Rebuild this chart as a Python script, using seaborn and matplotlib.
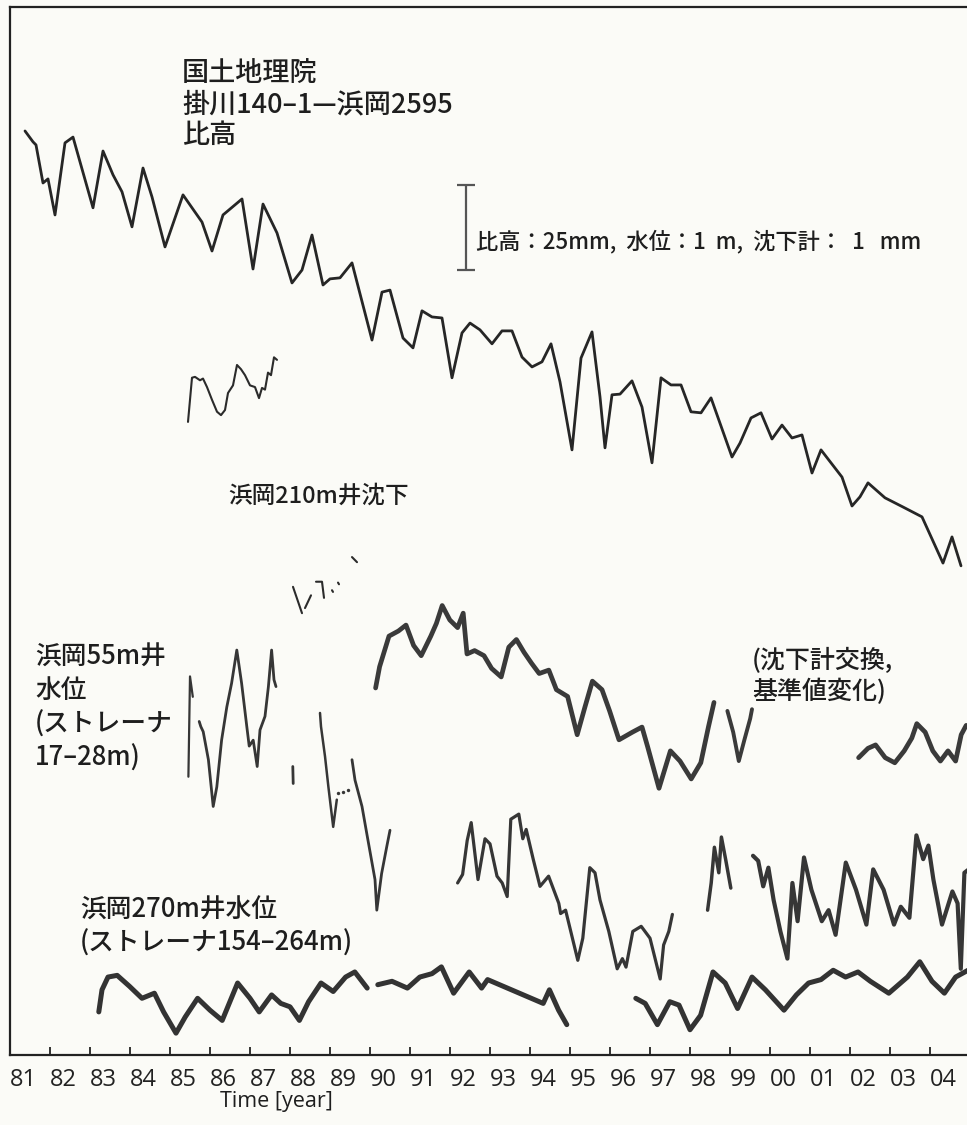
import matplotlib
matplotlib.use("Agg")
import matplotlib.pyplot as plt
import seaborn as sns
from matplotlib.transforms import ScaledTranslation

# ---------------- data ----------------
tick_years = list(range(1981, 2005))
tick_labels = [f"{y % 100:02d}" for y in tick_years]

# GSI leveling Kakegawa 140-1 -> Hamaoka 2595, relative height (mm)
lev_year = [1981.375, 1981.575, 1981.65, 1981.825, 1981.95, 1982.125, 1982.375, 1982.575,
            1983.075, 1983.325, 1983.575, 1983.8, 1984.05, 1984.325, 1984.55, 1984.875,
            1985.325, 1985.8, 1986.05, 1986.325, 1986.8, 1987.075, 1987.325, 1987.675,
            1988.05, 1988.3, 1988.55, 1988.825, 1989.0, 1989.25, 1989.55, 1990.05,
            1990.3, 1990.5, 1990.825, 1991.075, 1991.3, 1991.55, 1991.8, 1992.05,
            1992.3, 1992.5, 1992.75, 1993.05, 1993.3, 1993.55, 1993.8, 1994.05,
            1994.3, 1994.525, 1994.75, 1995.05, 1995.275, 1995.55, 1995.75, 1995.875,
            1996.05, 1996.25, 1996.55, 1996.8, 1997.05, 1997.275, 1997.525, 1997.775,
            1998.025, 1998.275, 1998.525, 1999.05, 1999.25, 1999.525, 1999.775, 2000.05,
            2000.3, 2000.55, 2000.8, 2001.05, 2001.275, 2001.8, 2002.05, 2002.25,
            2002.45, 2002.875, 2003.325, 2003.8, 2004.325, 2004.55, 2004.775]
lev_mm = [0.0, -3.2, -4.1, -15.3, -14.1, -24.7, -3.5, -1.8,
          -22.6, -5.9, -12.9, -17.9, -28.2, -10.9, -19.4, -34.1,
          -18.8, -26.8, -35.3, -24.7, -20.0, -40.6, -21.5, -30.0,
          -44.7, -40.9, -30.6, -45.3, -43.5, -43.2, -38.8, -61.5,
          -47.4, -46.8, -60.9, -63.8, -52.9, -54.7, -55.0, -72.6,
          -59.4, -56.5, -58.5, -62.6, -58.8, -58.8, -66.5, -69.4,
          -67.9, -62.6, -73.8, -93.8, -66.8, -59.1, -78.2, -93.2,
          -77.6, -77.4, -73.5, -81.2, -97.6, -72.6, -74.7, -74.7,
          -82.6, -82.9, -78.5, -95.9, -91.8, -84.4, -82.9, -90.6,
          -86.5, -90.3, -89.4, -100.6, -93.8, -101.8, -110.3, -107.6,
          -103.5, -107.9, -110.6, -113.5, -127.1, -119.4, -127.9]

# Hamaoka 210 m well subsidence meter (mm)
sub_a_year = [1985.45, 1985.55, 1985.625, 1985.75, 1985.825, 1985.925, 1986.05, 1986.175,
              1986.275, 1986.375, 1986.45, 1986.575, 1986.675, 1986.775, 1986.875, 1987.0,
              1987.125, 1987.225, 1987.3, 1987.375, 1987.45, 1987.525, 1987.6, 1987.675]
sub_a_mm = [3.13, 3.65, 3.66, 3.62, 3.64, 3.54, 3.39, 3.25,
            3.21, 3.27, 3.47, 3.56, 3.80, 3.75, 3.68, 3.56,
            3.54, 3.41, 3.53, 3.51, 3.71, 3.68, 3.89, 3.86]
sub_b_year = [[1988.075, 1988.30], [1988.375, 1988.525], [1988.65, 1988.80, 1988.85],
              [1989.05, 1989.075], [1989.20, 1989.225], [1989.55, 1989.675]]
sub_b_mm = [[1.19, 0.88], [0.94, 1.09], [1.25, 1.25, 1.06],
            [1.15, 1.13], [1.24, 1.22], [1.54, 1.48]]
sub_c_year = [1990.14, 1990.24, 1990.475, 1990.71, 1990.90, 1991.09, 1991.28, 1991.52,
              1991.66, 1991.805, 1991.995, 1992.19, 1992.33, 1992.425, 1992.615, 1992.85,
              1993.04, 1993.28, 1993.47, 1993.66, 1993.85, 1994.04, 1994.23, 1994.47,
              1994.66, 1994.94, 1995.18, 1995.37, 1995.56, 1995.80, 1995.99, 1996.225,
              1996.56, 1996.80, 1996.94, 1997.225, 1997.51, 1997.75, 1998.03, 1998.27,
              1998.46, 1998.60]
sub_c_mm = [0.00, 0.25, 0.61, 0.67, 0.74, 0.50, 0.38, 0.61,
            0.76, 0.97, 0.80, 0.71, 0.88, 0.40, 0.44, 0.38,
            0.23, 0.13, 0.48, 0.57, 0.42, 0.29, 0.17, 0.21,
            -0.02, -0.10, -0.55, -0.23, 0.08, -0.02, -0.27, -0.61,
            -0.52, -0.46, -0.69, -1.18, -0.74, -0.86, -1.07, -0.88,
            -0.46, -0.17]
sub_d_year = [1998.935, 1999.08, 1999.22, 1999.36, 1999.505, 1999.55]
sub_d_mm = [-0.27, -0.52, -0.86, -0.61, -0.36, -0.25]
sub_e_year = [2002.215, 2002.45, 2002.64, 2002.88, 2003.12, 2003.355, 2003.545, 2003.67,
              2003.88, 2004.07, 2004.26, 2004.45, 2004.64, 2004.78, 2004.905]
sub_e_mm = [-0.82, -0.71, -0.67, -0.82, -0.88, -0.74, -0.59, -0.42,
            -0.52, -0.74, -0.86, -0.74, -0.86, -0.55, -0.44]

# Hamaoka 55 m well water level (m)
w55_a_year = [1985.46, 1985.50, 1985.57]
w55_a_m = [1.25, 2.43, 2.19]
w55_b_year = [1985.73, 1985.77, 1985.83, 1985.96, 1986.08, 1986.17, 1986.29, 1986.42,
              1986.54, 1986.67, 1986.79, 1986.92, 1986.98, 1987.08, 1987.18, 1987.25,
              1987.375, 1987.46, 1987.54, 1987.60, 1987.65]
w55_b_m = [1.90, 1.84, 1.78, 1.45, 0.90, 1.13, 1.68, 2.07,
           2.35, 2.74, 2.35, 1.84, 1.61, 1.68, 1.37, 1.80,
           1.96, 2.31, 2.74, 2.39, 2.31]
w55_c_year = [1988.07, 1988.08]
w55_c_m = [1.37, 1.17]
w55_d_year = [1988.75, 1988.775, 1988.875, 1988.96, 1989.08, 1989.17]
w55_d_m = [2.00, 1.84, 1.49, 1.13, 0.66, 0.98]
w55_dot_year = [1989.20, 1989.325, 1989.45]
w55_dot_m = [1.06, 1.07, 1.09]
w55_e_year = [1989.55, 1989.625, 1989.80, 1989.92, 1990.125, 1990.17, 1990.29, 1990.42, 1990.50]
w55_e_m = [1.45, 1.21, 0.90, 0.58, 0.04, -0.32, 0.11, 0.43, 0.62]
w55_f_year = [1992.19, 1992.315, 1992.43, 1992.53, 1992.70, 1992.875, 1993.0, 1993.175,
              1993.305, 1993.43, 1993.52, 1993.72, 1993.82, 1993.905, 1994.08, 1994.25,
              1994.465, 1994.72, 1994.765, 1994.89, 1995.195, 1995.32, 1995.495, 1995.625,
              1995.75, 1995.97, 1996.18, 1996.31, 1996.40, 1996.57, 1996.78, 1997.0,
              1997.255, 1997.34, 1997.47, 1997.56]
w55_f_m = [0.00, 0.10, 0.50, 0.71, 0.04, 0.52, 0.46, 0.08,
           0.00, -0.16, 0.75, 0.81, 0.52, 0.63, 0.28, -0.04,
           0.08, -0.24, -0.36, -0.32, -0.91, -0.65, 0.18, 0.12,
           -0.20, -0.57, -1.01, -0.89, -0.99, -0.57, -0.51, -0.65,
           -1.13, -0.73, -0.57, -0.37]
w55_g_year = [1998.44, 1998.53, 1998.61, 1998.72, 1998.785, 1998.89, 1999.02]
w55_g_m = [-0.32, 0.00, 0.42, 0.12, 0.54, 0.28, -0.06]
w55_h_year = [1999.575, 1999.705, 1999.83, 1999.96, 2000.09, 2000.26, 2000.435, 2000.56,
              2000.69, 2000.85, 2001.035, 2001.295, 2001.465, 2001.64, 2001.895, 2002.15,
              2002.41, 2002.58, 2002.84, 2003.10, 2003.27, 2003.485, 2003.66, 2003.83,
              2003.96, 2004.085, 2004.30, 2004.56, 2004.69, 2004.77, 2004.86, 2004.97]
w55_h_m = [0.32, 0.26, -0.04, 0.18, -0.20, -0.57, -0.89, 0.00,
           -0.45, 0.30, -0.08, -0.45, -0.32, -0.61, 0.24, -0.08,
           -0.49, 0.16, -0.08, -0.49, -0.28, -0.41, 0.56, 0.28,
           0.44, 0.04, -0.49, -0.10, -0.24, -1.01, 0.12, 0.16]

# Hamaoka 270 m well water level (m)
w270_a_year = [1983.22, 1983.30, 1983.45, 1983.68, 1983.99, 1984.30, 1984.61, 1984.84,
               1985.15, 1985.38, 1985.69, 1986.0, 1986.305, 1986.69, 1987.0, 1987.23,
               1987.54, 1987.77, 1988.0, 1988.235, 1988.465, 1988.775, 1989.08, 1989.39,
               1989.62, 1989.93]
w270_a_m = [-0.14, 0.12, 0.27, 0.29, 0.16, 0.02, 0.08, -0.14,
            -0.39, -0.20, 0.02, -0.12, -0.24, 0.20, 0.02, -0.14,
            0.06, -0.04, -0.08, -0.24, -0.02, 0.20, 0.10, 0.27,
            0.33, 0.14]
w270_b_year = [1990.195, 1990.55, 1990.935, 1991.245, 1991.55, 1991.785, 1992.09, 1992.48,
               1992.79, 1992.94, 1994.33, 1994.485, 1994.715, 1994.92]
w270_b_m = [0.18, 0.22, 0.14, 0.27, 0.31, 0.39, 0.08, 0.33,
            0.14, 0.24, -0.04, 0.12, -0.12, -0.29]
w270_c_year = [1996.645, 1996.88, 1997.185, 1997.495, 1997.725, 1998.0, 1998.265, 1998.575,
               1998.88, 1999.19, 1999.55, 1999.885, 2000.35, 2000.66, 2000.965, 2001.275,
               2001.58, 2001.89, 2002.20, 2002.51, 2002.97, 2003.435, 2003.745, 2004.05,
               2004.36, 2004.64, 2004.95]
w270_c_m = [0.02, -0.04, -0.29, -0.02, -0.06, -0.35, -0.18, 0.33,
            0.20, -0.10, 0.27, 0.12, -0.12, 0.06, 0.20, 0.24,
            0.35, 0.27, 0.33, 0.22, 0.08, 0.27, 0.45, 0.22,
            0.08, 0.27, 0.35]

# ---------------- layout / style ----------------
W, H, DPI = 967, 1125, 100
PX_PER_UNIT = 85.0            # length of the scale bar in pixels
LEV_MM_PER_UNIT = 25.0        # 比高 : 25 mm per bar
LEV_BASE, SUB_BASE, W55_BASE, W270_BASE = 10.871, 4.318, 2.024, 0.647

sns.set_theme(style="white")
plt.rcParams["font.family"] = ["Noto Sans CJK JP", "DejaVu Sans"]
BG = "#fbfbf7"
INK = "#2b2b2b"

fig = plt.figure(figsize=(W / DPI, H / DPI), dpi=DPI, facecolor=BG)
ax_l, ax_r, ax_t, ax_b = 10, 967, 7, 1055
ax = fig.add_axes([ax_l / W, 1 - ax_b / H, (ax_r - ax_l) / W, (ax_b - ax_t) / H])
ax.set_facecolor(BG)


def draw(years, values, base, per_unit, lw, color=INK):
    yy = [base + v / per_unit for v in values]
    sns.lineplot(x=years, y=yy, ax=ax, color=color, linewidth=lw,
                 estimator=None, sort=False, legend=False)


draw(lev_year, lev_mm, LEV_BASE, LEV_MM_PER_UNIT, 2.0, "#262626")

draw(sub_a_year, sub_a_mm, SUB_BASE, 1.0, 1.5)
for yrs, vals in zip(sub_b_year, sub_b_mm):
    draw(yrs, vals, SUB_BASE, 1.0, 1.5)
draw(sub_c_year, sub_c_mm, SUB_BASE, 1.0, 3.4, "#3a3a3a")
draw(sub_d_year, sub_d_mm, SUB_BASE, 1.0, 2.8, "#3a3a3a")
draw(sub_e_year, sub_e_mm, SUB_BASE, 1.0, 3.4, "#3a3a3a")

for yrs, vals, lw in [(w55_a_year, w55_a_m, 1.6), (w55_b_year, w55_b_m, 2.0),
                      (w55_c_year, w55_c_m, 2.0), (w55_d_year, w55_d_m, 1.8),
                      (w55_e_year, w55_e_m, 2.0), (w55_f_year, w55_f_m, 2.3),
                      (w55_g_year, w55_g_m, 2.5), (w55_h_year, w55_h_m, 3.0)]:
    draw(yrs, vals, W55_BASE, 1.0, lw, "#363636")
sns.scatterplot(x=w55_dot_year, y=[W55_BASE + v for v in w55_dot_m], ax=ax,
                color="#363636", s=6, linewidth=0, legend=False)

for yrs, vals in [(w270_a_year, w270_a_m), (w270_b_year, w270_b_m), (w270_c_year, w270_c_m)]:
    draw(yrs, vals, W270_BASE, 1.0, 3.6, "#333333")

# scale bar
bar_x, bar_lo, bar_hi, cap = 1992.4, 9.235, 10.235, 0.22
ax.vlines(bar_x, bar_lo, bar_hi, color="#555555", linewidth=1.6)
ax.hlines([bar_lo, bar_hi], bar_x - cap, bar_x + cap, color="#555555", linewidth=1.6)

# axes
ax.set_xlim(1981, 1981 + (ax_r - ax_l) / 40.0)
ax.set_ylim(0, (ax_b - ax_t) / PX_PER_UNIT)
ax.set_yticks([])
ax.set_xticks(tick_years)
ax.set_xticklabels(tick_labels, family=["Open Sans", "DejaVu Sans"], fontsize=17, color="#222222")
ax.tick_params(axis="x", direction="in", length=6, width=1.3, color="#222222", pad=9,
               bottom=True)
for lab in ax.get_xticklabels():
    lab.set_transform(lab.get_transform() + ScaledTranslation(13 / DPI, 0, fig.dpi_scale_trans))
for side in ["left", "bottom", "top"]:
    ax.spines[side].set_visible(True)
    ax.spines[side].set_color("#222222")
    ax.spines[side].set_linewidth(1.6)
ax.spines["right"].set_visible(False)
ax.set_xlabel("")
ax.set_ylabel("")
ax.grid(False)


def ftext(x, y, s, **kw):
    fig.text(x / W, 1 - y / H, s, color="#1e1e1e", **kw)


ftext(182, 60, "国土地理院\n掛川140–1—浜岡2595\n比高", fontsize=19.5, va="top", ha="left",
      linespacing=1.2, fontweight="medium")
ftext(476, 241, "比高：25mm,  水位：1  m,  沈下計：  1   mm", fontsize=16, va="center", ha="left",
      fontweight="medium")
ftext(228, 496, "浜岡210m井沈下", fontsize=17, va="center", ha="left", fontweight="medium")
ftext(35, 644, "浜岡55m井\n水位\n(ストレーナ\n17–28m)", fontsize=18.5, va="top", ha="left",
      linespacing=1.3, fontweight="medium")
ftext(80, 897, "浜岡270m井水位\n(ストレーナ154–264m)", fontsize=18.5, va="top", ha="left",
      linespacing=1.25, fontweight="medium")
ftext(752, 648, "(沈下計交換,\n基準値変化)", fontsize=18, va="top", ha="left", linespacing=1.2,
      fontweight="medium")
ftext(276, 1101, "Time [year]", fontsize=15.5, va="center", ha="center",
      family=["Open Sans", "DejaVu Sans"])

fig.savefig("out.png", dpi=DPI, facecolor=BG)
